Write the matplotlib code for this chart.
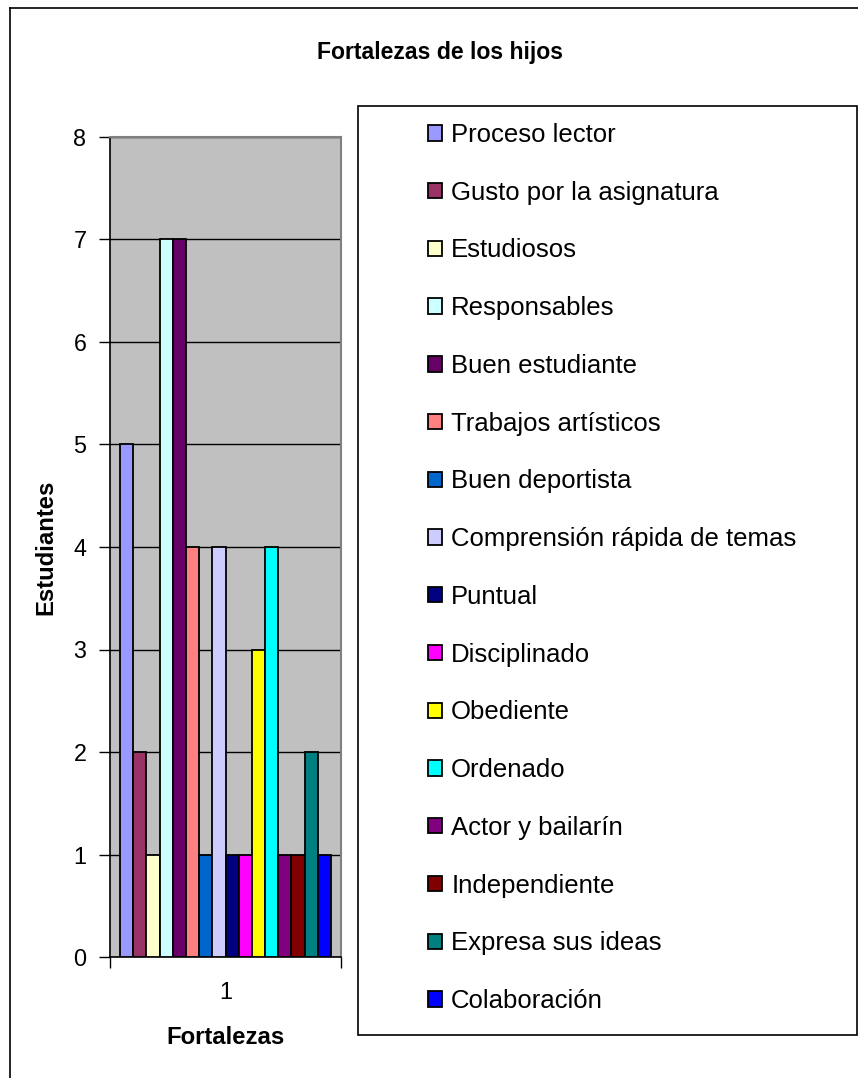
import matplotlib
matplotlib.use("Agg")
import matplotlib.pyplot as plt
from matplotlib.lines import Line2D
from matplotlib.patches import Rectangle

plt.rcParams['font.family'] = ['Liberation Sans', 'DejaVu Sans']

title = "Fortalezas de los hijos"
xlabel = "Fortalezas"
ylabel = "Estudiantes"
category = ["1"]
series_names = ["Proceso lector", "Gusto por la asignatura", "Estudiosos", "Responsables",
                "Buen estudiante", "Trabajos artísticos", "Buen deportista",
                "Comprensión rápida de temas", "Puntual", "Disciplinado", "Obediente",
                "Ordenado", "Actor y bailarín", "Independiente", "Expresa sus ideas",
                "Colaboración"]
values = [5, 2, 1, 7, 7, 4, 1, 4, 1, 1, 3, 4, 1, 1, 2, 1]
colors = ["#9999FF", "#993366", "#FFFFCC", "#CCFFFF", "#660066", "#FF8080", "#0066CC",
          "#CCCCFF", "#000080", "#FF00FF", "#FFFF00", "#00FFFF", "#800080", "#800000",
          "#008080", "#0000FF"]
yticks = [0, 1, 2, 3, 4, 5, 6, 7, 8]

W, H = 858, 1078
fig = plt.figure(figsize=(W / 100, H / 100), dpi=100)

# outer chart border
fig.add_artist(Line2D([10 / W, 1.0], [1 - 8 / H, 1 - 8 / H], color="black", lw=1.2,
                      transform=fig.transFigure))
fig.add_artist(Line2D([10 / W, 10 / W], [1 - 8 / H, 0.0], color="black", lw=1.2,
                      transform=fig.transFigure))

L, R, T, B = 110, 341, 137, 957
ax = fig.add_axes([L / W, 1 - B / H, (R - L) / W, (B - T) / H])
ax.set_facecolor("#C0C0C0")

n = len(values)
group = 211 / 231
w = group / n
handles = []
for i, (v, c, name) in enumerate(zip(values, colors, series_names)):
    x = -group / 2 + w * (i + 0.5)
    b = ax.bar(x, v, width=w, color=c, edgecolor="black", linewidth=1.3, zorder=3, label=name)
    handles.append(b)

ax.set_xlim(-0.5, 0.5)
ax.set_ylim(0, 8)
ax.set_yticks(yticks)
ax.yaxis.grid(True, color="black", lw=1.0, zorder=1)
ax.set_axisbelow(True)
ax.tick_params(axis="y", length=8, width=1, pad=9, labelsize=16.8, direction="out")
ax.set_xticks([0])
ax.set_xticklabels(category)
ax.tick_params(axis="x", which="major", length=0, pad=17, labelsize=16.8)
ax.set_xticks([-0.5, 0.5], minor=True)
ax.tick_params(axis="x", which="minor", length=8, width=1, direction="out")
for s in ["top", "right"]:
    ax.spines[s].set_color("#808080")
    ax.spines[s].set_linewidth(1.5)
for s in ["left", "bottom"]:
    ax.spines[s].set_color("black")
    ax.spines[s].set_linewidth(1.2)

fig.text(440 / W, 1 - 53 / H, title, ha="center", va="center", fontsize=16.6, fontweight="bold")
fig.text(225 / W, 1 - 1038 / H, xlabel, ha="center", va="center", fontsize=17.2, fontweight="bold")
fig.text(46 / W, 1 - 547 / H, ylabel, ha="center", va="center", fontsize=17.2,
         fontweight="bold", rotation=90)

# legend frame
fig.add_artist(Rectangle((358 / W, 1 - 1035 / H), (857 - 358) / W, (1035 - 106) / H,
                         transform=fig.transFigure, facecolor="white", edgecolor="black",
                         lw=1.2, zorder=0))
leg = fig.legend(handles=handles, labels=series_names, loc="upper left",
                 bbox_to_anchor=(428 / W, 1 - 123 / H), frameon=False, borderpad=0,
                 borderaxespad=0, fontsize=18.5, labelspacing=1.313, handlelength=0.54,
                 handleheight=0.54, handletextpad=0.36)

fig.savefig("out.png", dpi=100)
